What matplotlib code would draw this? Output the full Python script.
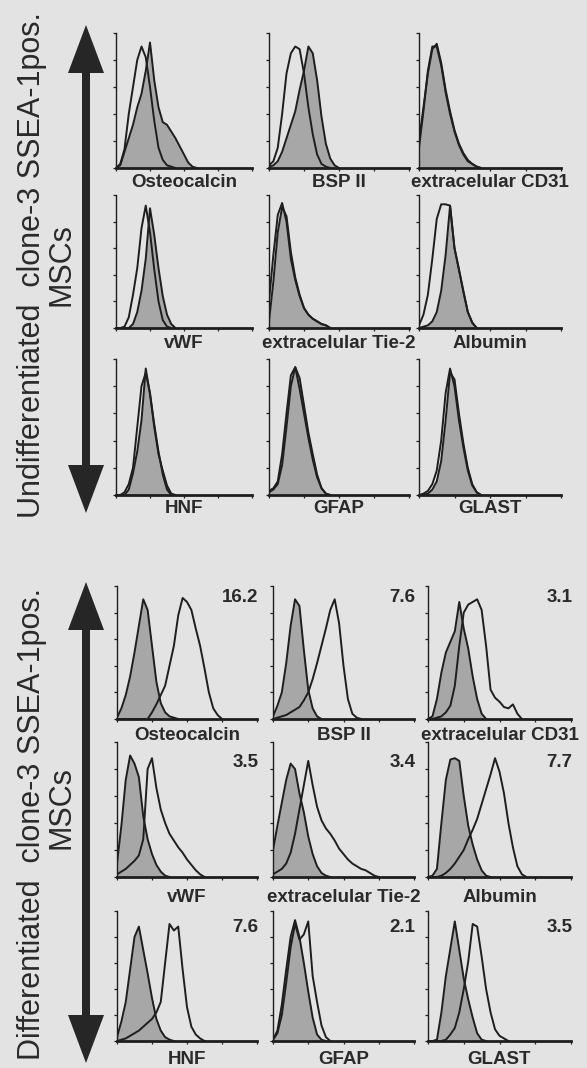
import matplotlib.pyplot as plt
import numpy as np
from matplotlib.patches import Polygon, Rectangle

plt.rcParams['font.family'] = ['Liberation Sans', 'DejaVu Sans']

# panel names (same order in both blocks)
markers = ['Osteocalcin', 'BSP II', 'extracelular CD31',
           'vWF', 'extracelular Tie-2', 'Albumin',
           'HNF', 'GFAP', 'GLAST']

# % positive cells printed on the differentiated panels
diff_percent = ['16.2', '7.6', '3.1', '3.5', '3.4', '7.7', '7.6', '2.1', '3.5']

# histogram counts per channel bin (% of panel height), grey = isotype, open = marker
# --- undifferentiated clone-3
osteo_u_fill = [0, 2, 12, 22, 32, 45, 55, 72, 93, 65, 45, 34, 32, 27, 22, 16, 10, 4, 1, 0]
osteo_u_open = [0, 3, 14, 40, 60, 80, 90, 82, 60, 35, 15, 6, 2, 1, 0]
bsp_u_fill = [1, 2, 5, 12, 22, 32, 42, 58, 72, 90, 85, 65, 38, 18, 7, 2, 0]
bsp_u_open = [2, 5, 15, 40, 70, 85, 90, 88, 70, 45, 25, 10, 3, 1, 0]
cd31_u_fill = [20, 45, 70, 88, 92, 78, 58, 42, 28, 18, 11, 6, 3, 1, 0]
cd31_u_open = [15, 42, 72, 90, 90, 76, 56, 40, 27, 17, 10, 5, 3, 1, 0]
vwf_u_fill = [0, 0, 0, 0, 3, 12, 28, 52, 90, 70, 45, 24, 10, 3, 0]
vwf_u_open = [0, 0, 1, 8, 25, 45, 75, 92, 72, 44, 20, 6, 1, 0]
tie2_u_fill = [5, 35, 72, 91, 84, 57, 38, 25, 15, 10, 7, 5, 3, 2, 0]
tie2_u_open = [20, 55, 85, 94, 80, 52, 36, 24, 15, 10, 7, 5, 3, 2, 0]
alb_u_fill = [0, 1, 2, 5, 12, 28, 55, 92, 60, 44, 27, 12, 4, 0]
alb_u_open = [2, 10, 25, 52, 82, 93, 93, 92, 60, 44, 28, 12, 4, 0]
hnf_u_fill = [0, 0, 0, 4, 16, 32, 55, 93, 74, 50, 30, 18, 7, 1, 0]
hnf_u_open = [0, 0, 2, 8, 20, 50, 80, 90, 75, 52, 32, 15, 4, 0]
gfap_u_fill = [2, 4, 8, 22, 50, 80, 94, 86, 66, 46, 30, 15, 5, 1, 0]
gfap_u_open = [3, 5, 10, 30, 60, 88, 94, 78, 60, 42, 26, 13, 5, 1, 0]
glast_u_fill = [0, 0, 1, 4, 10, 25, 55, 90, 85, 60, 38, 20, 8, 2, 0]
glast_u_open = [0, 1, 3, 8, 18, 40, 75, 93, 80, 55, 35, 18, 7, 2, 0]

# --- differentiated clone-3
osteo_d_fill = [1, 8, 18, 32, 50, 70, 90, 82, 55, 28, 12, 5, 2, 1, 0]
osteo_d_open = [0, 0, 0, 0, 0, 0, 0, 0, 5, 11, 18, 25, 40, 55, 78, 91, 88, 82, 68, 55, 38, 20, 8, 3, 0]
bsp_d_fill = [2, 10, 20, 42, 70, 90, 85, 52, 22, 8, 2, 0]
bsp_d_open = [0, 1, 2, 3, 5, 7, 9, 14, 20, 30, 42, 55, 68, 82, 90, 72, 40, 15, 4, 1, 0]
cd31_d_fill = [0, 2, 15, 35, 50, 58, 66, 88, 68, 53, 32, 15, 4, 0]
cd31_d_open = [0, 0, 1, 2, 5, 10, 25, 55, 80, 86, 88, 90, 82, 55, 22, 16, 13, 9, 8, 11, 4, 0]
vwf_d_fill = [10, 38, 72, 90, 84, 74, 45, 28, 17, 9, 4, 1, 0]
vwf_d_open = [2, 4, 6, 9, 12, 16, 28, 80, 88, 66, 50, 40, 32, 27, 22, 18, 13, 9, 5, 2, 0]
tie2_d_fill = [20, 38, 55, 72, 84, 80, 62, 48, 30, 17, 8, 3, 1, 0]
tie2_d_open = [2, 4, 6, 10, 18, 32, 50, 68, 86, 68, 52, 42, 36, 32, 27, 21, 17, 13, 10, 8, 6, 5, 3, 1, 0]
alb_d_fill = [0, 1, 6, 40, 72, 87, 88, 86, 60, 38, 24, 13, 5, 1, 0]
alb_d_open = [0, 0, 0, 1, 3, 6, 10, 15, 20, 28, 35, 43, 54, 65, 76, 88, 78, 62, 40, 22, 8, 2, 0]
hnf_d_fill = [3, 15, 30, 55, 80, 88, 70, 52, 33, 17, 8, 3, 1, 0]
hnf_d_open = [0, 1, 2, 4, 6, 8, 11, 14, 17, 22, 30, 60, 90, 85, 88, 55, 26, 11, 5, 2, 0]
gfap_d_fill = [1, 8, 28, 55, 80, 93, 80, 60, 38, 18, 5, 1, 0]
gfap_d_open = [1, 6, 20, 45, 72, 90, 78, 82, 92, 50, 30, 12, 3, 0]
glast_d_fill = [0, 0, 1, 22, 50, 71, 92, 70, 48, 32, 18, 6, 1, 0]
glast_d_open = [0, 0, 0, 0, 1, 5, 10, 22, 40, 61, 90, 88, 65, 40, 22, 9, 4, 2, 0]

undiff_fill = [osteo_u_fill, bsp_u_fill, cd31_u_fill, vwf_u_fill, tie2_u_fill,
               alb_u_fill, hnf_u_fill, gfap_u_fill, glast_u_fill]
undiff_open = [osteo_u_open, bsp_u_open, cd31_u_open, vwf_u_open, tie2_u_open,
               alb_u_open, hnf_u_open, gfap_u_open, glast_u_open]
diff_fill = [osteo_d_fill, bsp_d_fill, cd31_d_fill, vwf_d_fill, tie2_d_fill,
             alb_d_fill, hnf_d_fill, gfap_d_fill, glast_d_fill]
diff_open = [osteo_d_open, bsp_d_open, cd31_d_open, vwf_d_open, tie2_d_open,
             alb_d_open, hnf_d_open, gfap_d_open, glast_d_open]

BG = '#e3e3e3'
INK = '#1e1e1e'
GREY = '#a7a7a7'
TXT = '#2a2a2a'

W, H = 587, 1068
fig = plt.figure(figsize=(W / 100, H / 100), dpi=100, facecolor=BG)

# layout in pixels
up_cols = [(116, 252), (269, 409), (419, 561)]
up_rows = [(33, 168), (195, 328), (359, 495)]
lo_cols = [(117, 257), (273, 414), (428, 571)]
lo_rows = [(586, 719), (742, 877), (911, 1041)]
label_gap = [15, 15, 13, 16, 20, 18]
pct_y = [0.91, 0.85, 0.87]


def hist_panel(x0, x1, y0, y1, fill_vals, open_vals, name, gap, pct=None, py=0.9):
    ax = fig.add_axes([x0 / W, 1 - y1 / H, (x1 - x0) / W, (y1 - y0) / H])
    ax.set_facecolor('none')
    xf = np.arange(len(fill_vals))
    ax.fill_between(xf, fill_vals, color=GREY, lw=0, zorder=2)
    ax.plot(xf, fill_vals, color=INK, lw=1.4, zorder=3)
    ax.plot(np.arange(len(open_vals)), open_vals, color=INK, lw=1.4, zorder=4)
    ax.set_xlim(0, 32)
    ax.set_ylim(0, 100)
    ax.spines['top'].set_visible(False)
    ax.spines['right'].set_visible(False)
    ax.spines['bottom'].set_linewidth(2.0)
    ax.spines['left'].set_linewidth(1.0)
    ax.spines['bottom'].set_color(INK)
    ax.spines['left'].set_color(INK)
    ax.set_xticks([0, 8, 16, 24, 32])
    ax.set_yticks(range(0, 101, 20))
    ax.tick_params(length=2.5, width=0.9, color=INK,
                   labelbottom=False, labelleft=False)
    ax.annotate(name, xy=(0.5, 0), xycoords='axes fraction',
                xytext=(0, -gap * 0.72), textcoords='offset points',
                ha='center', va='center', fontsize=13.5, fontweight='bold', color=TXT)
    if pct is not None:
        ax.text(1.01, py, pct, transform=ax.transAxes, ha='right', va='center',
                fontsize=13.5, fontweight='bold', color=TXT)


for i, name in enumerate(markers):
    r, c = divmod(i, 3)
    hist_panel(*up_cols[c], *up_rows[r], undiff_fill[i], undiff_open[i], name,
               label_gap[r])
    hist_panel(*lo_cols[c], *lo_rows[r], diff_fill[i], diff_open[i], name,
               label_gap[3 + r], pct=diff_percent[i], py=pct_y[r])

# overlay for arrows and side titles, pixel coordinates
ov = fig.add_axes([0, 0, 1, 1], zorder=-1)
ov.set_xlim(0, W)
ov.set_ylim(H, 0)
ov.axis('off')


def double_arrow(x, y_top, y_bot, shaft=8, head_w=36, head_l=48):
    ov.add_patch(Rectangle((x - shaft / 2, y_top + head_l - 2), shaft,
                           (y_bot - y_top) - 2 * head_l + 4, color='#262626', lw=0))
    ov.add_patch(Polygon([[x, y_top], [x - head_w / 2, y_top + head_l],
                          [x + head_w / 2, y_top + head_l]], color='#262626', lw=0))
    ov.add_patch(Polygon([[x, y_bot], [x - head_w / 2, y_bot - head_l],
                          [x + head_w / 2, y_bot - head_l]], color='#262626', lw=0))


double_arrow(86, 25, 513)
double_arrow(86, 582, 1063)

side = dict(rotation=90, rotation_mode='anchor', ha='center', va='baseline',
            fontsize=22, color=TXT)
ov.text(40, 265, 'Undifferentiated  clone-3 SSEA-1pos.', **side)
ov.text(69, 265, 'MSCs', **side)
ov.text(40, 824, 'Differentiated  clone-3 SSEA-1pos.', **side)
ov.text(69, 808, 'MSCs', **side)

fig.savefig('out.png', dpi=100, facecolor=BG)
